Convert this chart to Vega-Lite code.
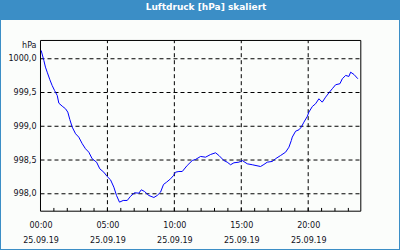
{
  "$schema": "https://vega.github.io/schema/vega-lite/v6.json",
  "width": 398,
  "height": 229,
  "autosize": {"type": "none"},
  "padding": {"left": 1, "right": 1, "top": 20, "bottom": 1},
  "background": "#3b8ec6",
  "title": {
    "text": "Luftdruck [hPa] skaliert",
    "color": "#ffffff",
    "font": "DejaVu Sans",
    "fontSize": 9,
    "fontWeight": "bold",
    "anchor": "middle",
    "frame": "group",
    "baseline": "alphabetic",
    "offset": 1,
    "dx": 6
  },
  "config": {
    "view": {"fill": "#fbfdfb", "stroke": null},
    "axis": {
      "labelFont": "DejaVu Sans",
      "labelFontSize": 8,
      "labelColor": "#111122",
      "titleFont": "DejaVu Sans",
      "titleFontSize": 8,
      "titleFontWeight": "normal",
      "titleColor": "#111122"
    },
    "axisX": {
      "orient": "bottom",
      "offset": -38.3,
      "domain": false,
      "grid": false,
      "ticks": false,
      "labelPadding": 11,
      "labelLineHeight": 15.3,
      "labelBaseline": "top",
      "labelFlush": false,
      "labelOverlap": false
    },
    "axisY": {
      "orient": "left",
      "offset": -39,
      "domain": false,
      "grid": false,
      "ticks": false,
      "labelPadding": 4,
      "labelOverlap": false,
      "labelFlush": false,
      "titleAngle": 0,
      "titleAlign": "right",
      "titleBaseline": "alphabetic",
      "titleX": -4,
      "titleY": 27.5
    }
  },
  "datasets": {
    "line": [
      {"h": 0.05, "v": 1000.123}, {"h": 0.25, "v": 999.975}, {"h": 0.37, "v": 999.876}, {"h": 0.5, "v": 999.801},
      {"h": 0.7, "v": 999.689}, {"h": 0.87, "v": 999.604}, {"h": 1.05, "v": 999.53}, {"h": 1.25, "v": 999.456},
      {"h": 1.37, "v": 999.342}, {"h": 1.62, "v": 999.298}, {"h": 1.87, "v": 999.259}, {"h": 2.04, "v": 999.209},
      {"h": 2.19, "v": 999.101}, {"h": 2.37, "v": 998.987}, {"h": 2.62, "v": 998.889}, {"h": 2.86, "v": 998.839},
      {"h": 3.12, "v": 998.741}, {"h": 3.36, "v": 998.667}, {"h": 3.61, "v": 998.616}, {"h": 3.86, "v": 998.519},
      {"h": 4.19, "v": 998.468}, {"h": 4.43, "v": 998.37}, {"h": 4.73, "v": 998.32}, {"h": 4.98, "v": 998.256},
      {"h": 5.23, "v": 998.207}, {"h": 5.48, "v": 998.098}, {"h": 5.68, "v": 997.975}, {"h": 5.9, "v": 997.876},
      {"h": 6.18, "v": 997.901}, {"h": 6.48, "v": 997.901}, {"h": 6.73, "v": 997.964}, {"h": 7.03, "v": 998.015},
      {"h": 7.35, "v": 998.009}, {"h": 7.53, "v": 998.059}, {"h": 7.77, "v": 998.034}, {"h": 8.09, "v": 997.975},
      {"h": 8.47, "v": 997.945}, {"h": 8.72, "v": 997.975}, {"h": 8.97, "v": 998.024}, {"h": 9.19, "v": 998.138},
      {"h": 9.42, "v": 998.172}, {"h": 9.72, "v": 998.222}, {"h": 9.94, "v": 998.271}, {"h": 10.09, "v": 998.32},
      {"h": 10.34, "v": 998.33}, {"h": 10.59, "v": 998.33}, {"h": 10.96, "v": 998.419}, {"h": 11.34, "v": 998.493},
      {"h": 11.58, "v": 998.508}, {"h": 11.96, "v": 998.553}, {"h": 12.33, "v": 998.542}, {"h": 12.71, "v": 998.582},
      {"h": 13.08, "v": 998.607}, {"h": 13.33, "v": 998.567}, {"h": 13.7, "v": 998.493}, {"h": 13.95, "v": 998.468},
      {"h": 14.2, "v": 998.43}, {"h": 14.45, "v": 998.459}, {"h": 14.82, "v": 998.468}, {"h": 15.07, "v": 998.493},
      {"h": 15.45, "v": 998.444}, {"h": 15.82, "v": 998.43}, {"h": 16.44, "v": 998.404}, {"h": 16.69, "v": 998.434},
      {"h": 16.94, "v": 998.468}, {"h": 17.32, "v": 998.479}, {"h": 17.56, "v": 998.519}, {"h": 17.94, "v": 998.567},
      {"h": 18.31, "v": 998.616}, {"h": 18.56, "v": 998.69}, {"h": 18.74, "v": 998.79}, {"h": 18.81, "v": 998.839},
      {"h": 19.06, "v": 998.927}, {"h": 19.31, "v": 998.948}, {"h": 19.48, "v": 998.987}, {"h": 19.68, "v": 999.061},
      {"h": 19.93, "v": 999.145}, {"h": 20.05, "v": 999.209}, {"h": 20.31, "v": 999.293}, {"h": 20.55, "v": 999.333},
      {"h": 20.8, "v": 999.407}, {"h": 21.05, "v": 999.357}, {"h": 21.3, "v": 999.431}, {"h": 21.55, "v": 999.496},
      {"h": 21.8, "v": 999.556}, {"h": 22.05, "v": 999.615}, {"h": 22.37, "v": 999.63}, {"h": 22.55, "v": 999.704},
      {"h": 22.8, "v": 999.753}, {"h": 23.04, "v": 999.738}, {"h": 23.17, "v": 999.801}, {"h": 23.42, "v": 999.767},
      {"h": 23.71, "v": 999.704}
    ],
    "xgrid": [{"h": 5}, {"h": 10}, {"h": 15}, {"h": 20}],
    "ygrid": [{"v": 998.0}, {"v": 998.5}, {"v": 999.0}, {"v": 999.5}, {"v": 1000.0}],
    "ticks": [
      {"h": 1}, {"h": 2}, {"h": 3}, {"h": 4}, {"h": 5}, {"h": 6}, {"h": 7}, {"h": 8}, {"h": 9}, {"h": 10}, {"h": 11}, {"h": 12},
      {"h": 13}, {"h": 14}, {"h": 15}, {"h": 16}, {"h": 17}, {"h": 18}, {"h": 19}, {"h": 20}, {"h": 21}, {"h": 22}, {"h": 23}
    ],
    "frame": [{"h": 0, "h2": 23.93, "v": 997.742, "v2": 1000.271}]
  },
  "encoding": {
    "x": {
      "type": "quantitative",
      "title": null,
      "scale": {"domain": [-2.951, 26.784], "nice": false, "zero": false}
    },
    "y": {
      "type": "quantitative",
      "title": "hPa",
      "scale": {"domain": [997.182, 1000.574], "nice": false, "zero": false}
    }
  },
  "layer": [
    {
      "data": {"name": "xgrid"},
      "mark": {"type": "rule", "color": "#000000", "strokeWidth": 1, "strokeDash": [4, 3]},
      "encoding": {
        "x": {"field": "h", "type": "quantitative", "title": null},
        "y": {"datum": 997.742, "type": "quantitative", "title": "hPa"},
        "y2": {"datum": 1000.271}
      }
    },
    {
      "data": {"name": "ygrid"},
      "mark": {"type": "rule", "color": "#000000", "strokeWidth": 1, "strokeDash": [4, 3]},
      "encoding": {
        "y": {"field": "v", "type": "quantitative", "title": "hPa"},
        "x": {"datum": 0, "type": "quantitative", "title": null},
        "x2": {"datum": 23.93}
      }
    },
    {
      "data": {"name": "ticks"},
      "mark": {"type": "rule", "color": "#000000", "strokeWidth": 1},
      "encoding": {
        "x": {"field": "h", "type": "quantitative", "title": null},
        "y": {"datum": 997.742, "type": "quantitative", "title": "hPa"},
        "y2": {"datum": 997.79}
      }
    },
    {
      "data": {"name": "frame"},
      "mark": {"type": "rect", "fill": null, "fillOpacity": 0, "stroke": "#000000", "strokeWidth": 1},
      "encoding": {
        "x": {"field": "h", "type": "quantitative", "title": null},
        "x2": {"field": "h2"},
        "y": {"field": "v", "type": "quantitative", "title": "hPa"},
        "y2": {"field": "v2"}
      }
    },
    {
      "data": {"name": "line"},
      "mark": {"type": "line", "color": "#0000ff", "strokeWidth": 1},
      "encoding": {
        "x": {
          "field": "h",
          "type": "quantitative",
          "title": null,
          "axis": {
            "values": [0, 5, 10, 15, 20],
            "labelOverlap": false,
            "labelFlush": false,
            "labelExpr": "[(datum.value < 10 ? '0' : '') + datum.value + ':00', '25.09.19']"
          }
        },
        "y": {
          "field": "v",
          "type": "quantitative",
          "title": "hPa",
          "axis": {
            "values": [998.0, 998.5, 999.0, 999.5, 1000.0],
            "labelOverlap": false,
            "labelFlush": false,
            "labelExpr": "replace(format(datum.value, '.1f'), '.', ',')"
          }
        }
      }
    }
  ]
}
